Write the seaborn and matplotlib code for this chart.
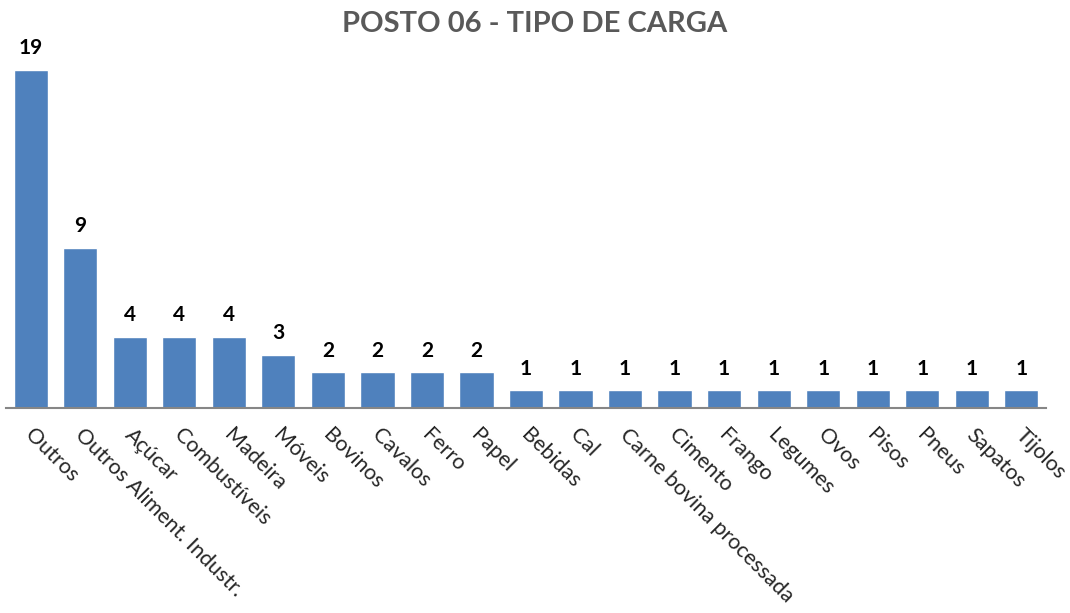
import matplotlib.pyplot as plt
import matplotlib.transforms as mtransforms
import seaborn as sns
import pandas as pd

sns.set_style("white")
plt.rcParams['font.family'] = ['Lato', 'DejaVu Sans']

categorias = ["Outros", "Outros Aliment. Industr.", "Açúcar", "Combustíveis", "Madeira",
              "Móveis", "Bovinos", "Cavalos", "Ferro", "Papel", "Bebidas", "Cal",
              "Carne bovina processada", "Cimento", "Frango", "Legumes", "Ovos",
              "Pisos", "Pneus", "Sapatos", "Tijolos"]
valores = [19, 9, 4, 4, 4, 3, 2, 2, 2, 2, 1, 1, 1, 1, 1, 1, 1, 1, 1, 1, 1]

df = pd.DataFrame({"carga": categorias, "qtd": valores})

fig = plt.figure(figsize=(10.7, 6.13), dpi=100)
ax = fig.add_axes([6 / 1070, 1 - 408 / 613, 1040 / 1070, 356 / 613])

sns.barplot(data=df, x="carga", y="qtd", color="#4F81BD", width=0.69,
            saturation=1, ax=ax)

for i, v in enumerate(valores):
    ax.text(i, v + 0.65, str(v), ha='center', va='bottom',
            fontsize=15, fontweight='bold', color='black')

ax.set_ylim(0, 20)
ax.set_xlim(-0.5, len(categorias) - 0.5)
ax.set_yticks([])
ax.set_xlabel('')
ax.set_ylabel('')
ax.set_xticks(range(len(categorias)))
ax.set_xticklabels(categorias, rotation=-45, ha='left', va='top',
                   rotation_mode='anchor', fontsize=15.5)
ax.tick_params(axis='x', length=0, pad=12)
# desloca um pouco os rótulos para a direita
offset = mtransforms.ScaledTranslation(5 / 100, 0, fig.dpi_scale_trans)
for lbl in ax.get_xticklabels():
    lbl.set_transform(lbl.get_transform() + offset)
for s in ['top', 'right', 'left']:
    ax.spines[s].set_visible(False)
ax.spines['bottom'].set_color('#868686')
ax.spines['bottom'].set_linewidth(1.5)

fig.text(0.5, 1 - 24 / 613, 'POSTO 06 - TIPO DE CARGA', ha='center', va='center',
         fontsize=21, fontweight='bold', color='#595959')

plt.savefig("out.png", dpi=100)
